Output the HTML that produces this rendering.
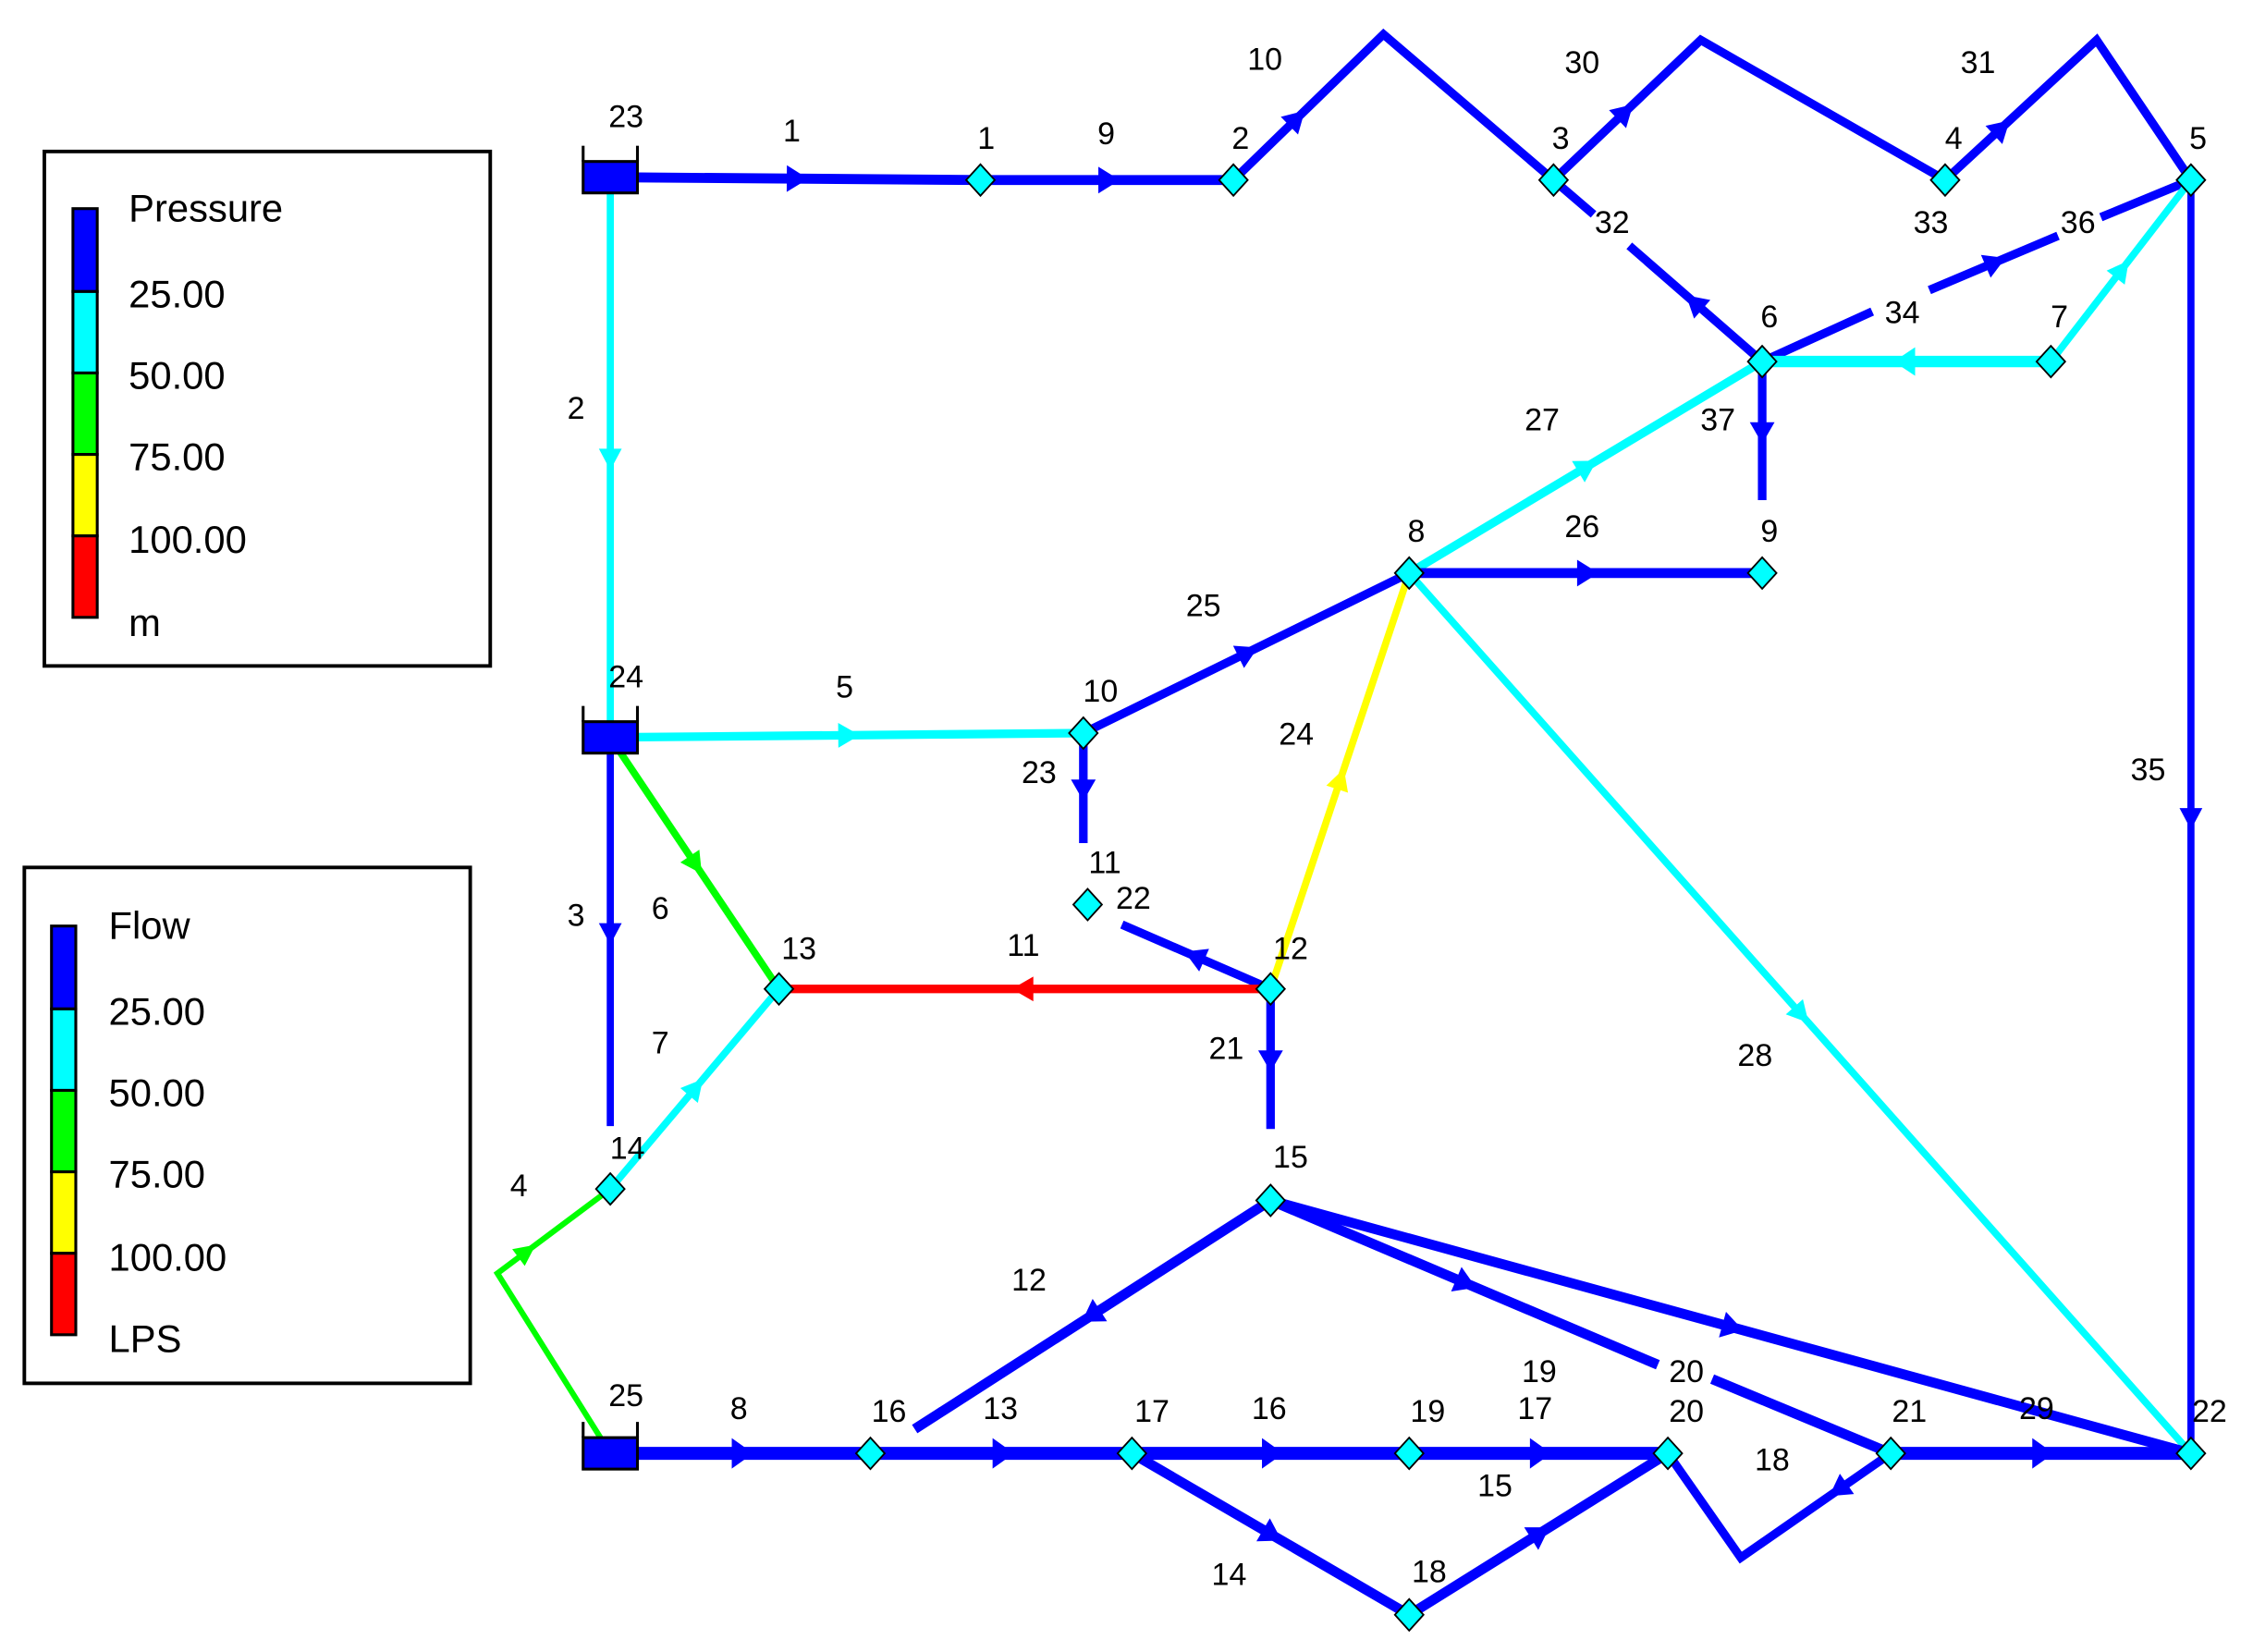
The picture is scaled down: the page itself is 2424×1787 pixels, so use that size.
<!DOCTYPE html>
<html><head><meta charset="utf-8"><style>
html,body{margin:0;padding:0;background:#fff;width:2424px;height:1787px;overflow:hidden}
svg{display:block}
text{font-family:"Liberation Sans",sans-serif;fill:#000}
</style></head><body>
<svg id="s" width="2424" height="1787" viewBox="0 0 1568 1156" xmlns="http://www.w3.org/2000/svg">
<rect width="1568" height="1156" fill="#fff"/>
<rect x="31" y="106" width="312" height="360" fill="none" stroke="#000" stroke-width="2.5"/>
<rect x="51" y="146" width="17" height="58" fill="#0000ff" stroke="#000" stroke-width="2"/>
<rect x="51" y="204" width="17" height="57" fill="#00ffff" stroke="#000" stroke-width="2"/>
<rect x="51" y="261" width="17" height="57" fill="#00ff00" stroke="#000" stroke-width="2"/>
<rect x="51" y="318" width="17" height="57" fill="#ffff00" stroke="#000" stroke-width="2"/>
<rect x="51" y="375" width="17" height="57" fill="#ff0000" stroke="#000" stroke-width="2"/>
<g font-size="27"><text x="90" y="155">Pressure</text><text x="90" y="215">25.00</text><text x="90" y="272">50.00</text><text x="90" y="329">75.00</text><text x="90" y="387">100.00</text><text x="90" y="445">m</text></g>
<rect x="17" y="607" width="312" height="361" fill="none" stroke="#000" stroke-width="2.5"/>
<rect x="36" y="648" width="17" height="58" fill="#0000ff" stroke="#000" stroke-width="2"/>
<rect x="36" y="706" width="17" height="57" fill="#00ffff" stroke="#000" stroke-width="2"/>
<rect x="36" y="763" width="17" height="57" fill="#00ff00" stroke="#000" stroke-width="2"/>
<rect x="36" y="820" width="17" height="57" fill="#ffff00" stroke="#000" stroke-width="2"/>
<rect x="36" y="877" width="17" height="57" fill="#ff0000" stroke="#000" stroke-width="2"/>
<g font-size="27"><text x="76" y="657">Flow</text><text x="76" y="717">25.00</text><text x="76" y="774">50.00</text><text x="76" y="831">75.00</text><text x="76" y="889">100.00</text><text x="76" y="946">LPS</text></g>
<g id="pipes" fill="none" stroke-linejoin="miter"></g>
<g id="arrows"></g>
<g id="nodes"></g>
<g id="labels" font-size="22"></g>
</svg>
<script>
var B="#0000ff",C="#00ffff",G="#00ff00",Y="#ffff00",R="#ff0000";
var N={R23:[427,124],J1:[686,126],J2:[863,126],A:[968,24],J3:[1087,126],Bk:[1190,28],J4:[1361,126],Ck:[1467,28],J5:[1533,126],
J6:[1233,253],J7:[1435,253],J9:[1233,401],J8:[986,401],J10:[758,513],J11:[761,633],J12:[889,692],J13:[545,692],R24:[427,516],
J14:[427,832],Bd:[348,891],R25:[427,1017],J15:[889,840],J16:[609,1017],J17:[792,1017],J19:[986,1017],J20:[1167,1017],J21:[1323,1017],
J22:[1533,1017],J18:[986,1130],B18:[1218,1090]};
var P=[
[["R23","J1"],B,7,1],[["J1","J2"],B,7,1],[["J2","A","J3"],B,6,1,0.2],[["J3","Bk","J4"],B,6,1,0.2],[["J4","Ck","J5"],B,6,1,0.2],
[["J3",[1115,150]],B,6,0],[[[1140,172],"J6"],B,6,-1],
[["J6",[1310,218]],B,6,0],[[[1350,203],[1440,165]],B,6,1],[[[1470,152],"J5"],B,6,0],
[["J6","J7"],C,8,-1],[["J7","J5"],C,5,1],[["J6",[1233,350]],B,6,1],[["J8","J6"],C,6,1],[["J8","J9"],B,7,1],
[["J10","J8"],B,6,1],[["J12","J8"],Y,5,1],[["J8","J22"],C,5,1],[["J5","J22"],B,5,1],
[["R23","R24"],C,5,1],[["R24","J10"],C,6,1],[["J10",[758,590]],B,6,1],[["J12",[785,647]],B,6,1],[["J13","J12"],R,6,-1],
[["R24","J13"],G,5,1],[["R24",[427,788]],B,5,1],[["J14","J13"],C,5,1],[["R25","Bd","J14"],G,4,1,0.7],
[["J12",[889,790]],B,6,1],[["J15",[640,1000]],B,7,1],[["J15",[1160,955]],B,7,1],[[[1198,965],"J21"],B,7,0],[["J15","J22"],B,7,1],
[["R25","J16"],B,9,1],[["J16","J17"],B,9,1],[["J17","J19"],B,9,1],[["J19","J20"],B,9,1],[["J20","B18","J21"],B,6,-1,0.8],[["J21","J22"],B,9,1],
[["J17","J18"],B,7,1],[["J18","J20"],B,7,1]];
function pt(p){return typeof p=="string"?N[p]:p}
var pg=document.getElementById("pipes"),ag=document.getElementById("arrows"),ns="http://www.w3.org/2000/svg";
P.forEach(function(d){
 var pts=d[0].map(pt);var e=document.createElementNS(ns,"polyline");
 e.setAttribute("points",pts.map(function(q){return q.join(",")}).join(" "));
 e.setAttribute("stroke",d[1]);e.setAttribute("stroke-width",d[2]);pg.appendChild(e);
 if(d[3]){
  var f=d[4]||0.5, lens=[],tot=0;
  for(var i=0;i<pts.length-1;i++){var l=Math.hypot(pts[i+1][0]-pts[i][0],pts[i+1][1]-pts[i][1]);lens.push(l);tot+=l}
  var t=f*tot;for(i=0;i<lens.length-1&&t>lens[i];i++)t-=lens[i];
  var a=pts[i],b=pts[i+1],u=t/lens[i],x=a[0]+(b[0]-a[0])*u,y=a[1]+(b[1]-a[1])*u;
  var ang=Math.atan2(b[1]-a[1],b[0]-a[0])*180/Math.PI+(d[3]<0?180:0);
  var h=document.createElementNS(ns,"polygon");var w=d[2]+7;
  h.setAttribute("points","9,0 -6,"+w/1.5+" -6,"+(-w/1.5));h.setAttribute("fill",d[1]);
  h.setAttribute("transform","translate("+x+","+y+") rotate("+ang+")");ag.appendChild(h);
 }
});
var ng=document.getElementById("nodes");
["J1","J2","J3","J4","J5","J6","J7","J8","J9","J10","J11","J12","J13","J14","J15","J16","J17","J18","J19","J20","J21","J22"].forEach(function(k){
 var p=N[k],e=document.createElementNS(ns,"polygon");
 e.setAttribute("points",(p[0])+","+(p[1]-11)+" "+(p[0]+10)+","+p[1]+" "+p[0]+","+(p[1]+11)+" "+(p[0]-10)+","+p[1]);
 e.setAttribute("fill","#00ffff");e.setAttribute("stroke","#000");e.setAttribute("stroke-width","1.2");ng.appendChild(e);
});
[["R23"],["R24"],["R25"]].forEach(function(k){var p=N[k[0]];
 ng.insertAdjacentHTML("beforeend",'<rect x="'+(p[0]-19)+'" y="'+(p[1]-11)+'" width="38" height="22" fill="#0000ff" stroke="#000" stroke-width="2"/><line x1="'+(p[0]-19)+'" y1="'+(p[1]-22)+'" x2="'+(p[0]-19)+'" y2="'+(p[1]-11)+'" stroke="#000" stroke-width="2"/><line x1="'+(p[0]+19)+'" y1="'+(p[1]-22)+'" x2="'+(p[0]+19)+'" y2="'+(p[1]-11)+'" stroke="#000" stroke-width="2"/>');
});
var L=[[438,88,"23"],[554,98,"1"],[690,103,"1"],[774,100,"9"],[868,103,"2"],[885,48,"10"],[1107,50,"30"],[1092,103,"3"],[1384,50,"31"],[1367,103,"4"],[1538,103,"5"],
[1128,162,"32"],[1351,162,"33"],[1454,162,"36"],[1238,228,"6"],[1331,225,"34"],[1441,228,"7"],[1079,300,"27"],[1202,300,"37"],[1107,375,"26"],[1238,378,"9"],[991,378,"8"],
[842,430,"25"],[403,292,"2"],[438,480,"24"],[591,487,"5"],[770,490,"10"],[907,520,"24"],[727,547,"23"],[773,610,"11"],[793,635,"22"],[903,670,"12"],[559,670,"13"],[716,668,"11"],[403,647,"3"],[462,642,"6"],[462,736,"7"],[858,740,"21"],[439,810,"14"],[363,836,"4"],[903,816,"15"],[1503,545,"35"],[1228,745,"28"],
[720,902,"12"],[1077,966,"19"],[1180,966,"20"],[1425,992,"29"],[438,983,"25"],[517,992,"8"],[622,994,"16"],[700,992,"13"],[806,994,"17"],[888,992,"16"],[999,994,"19"],[1074,992,"17"],[1180,994,"20"],[1336,994,"21"],[1546,994,"22"],[1240,1028,"18"],[1046,1046,"15"],[860,1108,"14"],[1000,1106,"18"]];
var lg=document.getElementById("labels");
L.forEach(function(l){lg.insertAdjacentHTML("beforeend",'<text x="'+l[0]+'" y="'+(l[1]+1)+'" text-anchor="middle">'+l[2]+'</text>')});
</script>
</body></html>
